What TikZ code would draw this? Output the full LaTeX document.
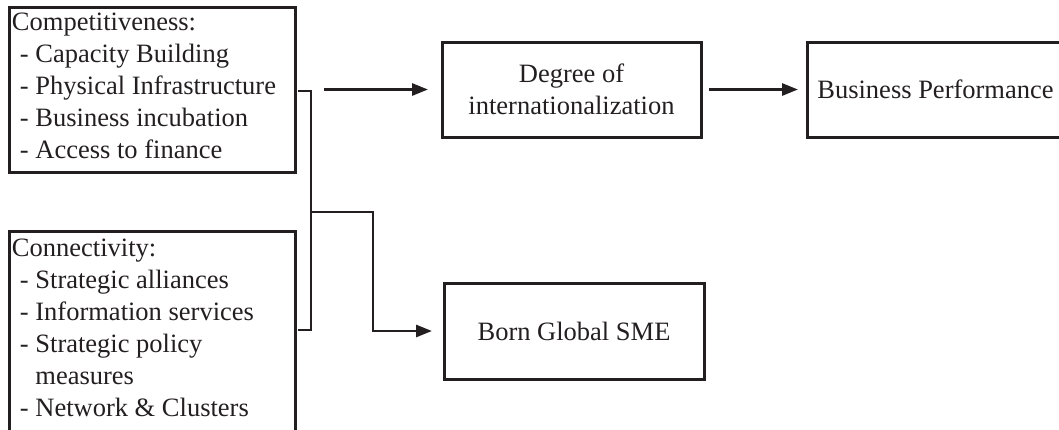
\documentclass[tikz,border=0pt]{standalone}
\usepackage{fontspec}
\setmainfont{Liberation Serif}
\usetikzlibrary{arrows.meta}
\definecolor{ink}{RGB}{35,31,32}
\begin{document}
\begin{tikzpicture}[x=1pt,y=-1pt,
  every node/.style={font=\fontsize{26.5}{32}\selectfont, text=ink},
  box/.style={draw=ink, line width=3pt, rectangle, inner sep=0pt, outer sep=0pt, anchor=north west},
  listtext/.style={inner sep=0pt, outer sep=0pt, anchor=north west, align=left},
  link/.style={draw=ink, line width=2.8pt},
  arrow/.style={link, -{Triangle[length=16pt,width=12pt]}}]
\useasboundingbox (0,0) rectangle (1059,429);
\clip (0,0) rectangle (1059,429);

% left-hand factor boxes
\node[box, minimum width=286pt, minimum height=165pt] (comp) at (9,7) {};
\node[box, minimum width=286pt, minimum height=240pt] (conn) at (9,231) {};
\node[listtext] (comptext) at (12,10) {\rule{0pt}{20pt}Competitiveness:\\
  \hspace*{0.3em}- Capacity Building\\
  \hspace*{0.3em}- Physical Infrastructure\\
  \hspace*{0.3em}- Business incubation\\
  \hspace*{0.3em}- Access to finance};
\node[listtext] (conntext) at (12,236) {\rule{0pt}{20pt}Connectivity:\\
  \hspace*{0.3em}- Strategic alliances\\
  \hspace*{0.3em}- Information services\\
  \hspace*{0.3em}- Strategic policy\\
  \hspace*{0.3em}\phantom{-\ }measures\\
  \hspace*{0.3em}- Network \& Clusters};

% outcome boxes
\node[box, minimum width=259pt, minimum height=95pt, align=center] (degree) at (442,42) {Degree of\\internationalization};
\node[box, minimum width=257pt, minimum height=95pt] (perf) at (807,42) {Business Performance};
\node[box, minimum width=260pt, minimum height=96pt] (born) at (444,283) {Born Global SME};

% bracket joining both factor boxes
\coordinate (brtop) at (298,91);
\coordinate (brmid) at (311,212);
\coordinate (brbot) at (298,330);
\coordinate (bend) at (373,212);
\coordinate (arrstart) at (324,89.5);
\draw[link] (brtop) -| (brmid) |- (brbot);

% connectors
\draw[arrow, shorten >=14pt] (arrstart) -- (degree.west);
\draw[arrow, shorten <=8pt, shorten >=9pt] (degree.east) -- (perf.west);
\draw[arrow, shorten >=12pt] (brmid) -- (bend) |- (born.west);
\end{tikzpicture}
\end{document}
